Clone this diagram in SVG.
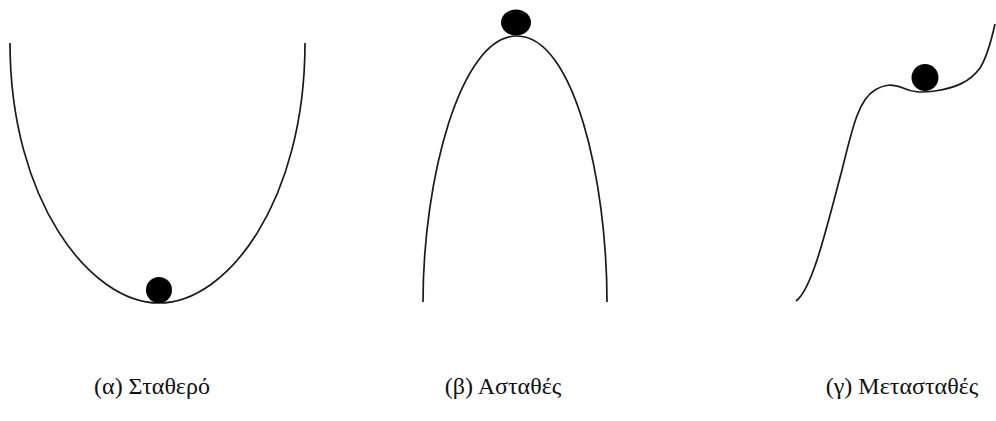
<svg xmlns="http://www.w3.org/2000/svg" width="996" height="421" viewBox="0 0 996 421">
<style>
.curve{fill:none;stroke:#1a1a1a;stroke-width:1.7;stroke-linecap:butt}
.ball{fill:#000}
.lbl{font-family:"Liberation Serif","Times New Roman","DejaVu Serif",serif;font-size:24px;fill:#111;text-anchor:middle}
</style>
<rect width="996" height="421" fill="#fff"/>
<g id="stable">
<path class="curve" d="M10,43 C10,200 90,303 159,303 C228,303 305,200 305,43"/>
<circle class="ball" cx="159" cy="290" r="13"/>
<text class="lbl" x="152" y="394">(α) Σταθερό</text>
</g>
<g id="unstable">
<path class="curve" d="M423,302 C423,180 460,36 517,36 C574,36 607,180 607,302"/>
<ellipse class="ball" cx="516" cy="22.5" rx="15" ry="13"/>
<text class="lbl" x="503" y="394">(β) Ασταθές</text>
</g>
<g id="metastable">
<path class="curve" d="M796,301 C812,290 826,230 842,170 C852,130 858,100 875,90 C885,84 892,84 903,88 C912,92 920,93 935,91 C955,88 970,82 980,68 C987,57 991,42 995,24"/>
<circle class="ball" cx="925" cy="77.5" r="13.5"/>
<text class="lbl" x="902" y="394">(γ) Μετασταθές</text>
</g>
</svg>
